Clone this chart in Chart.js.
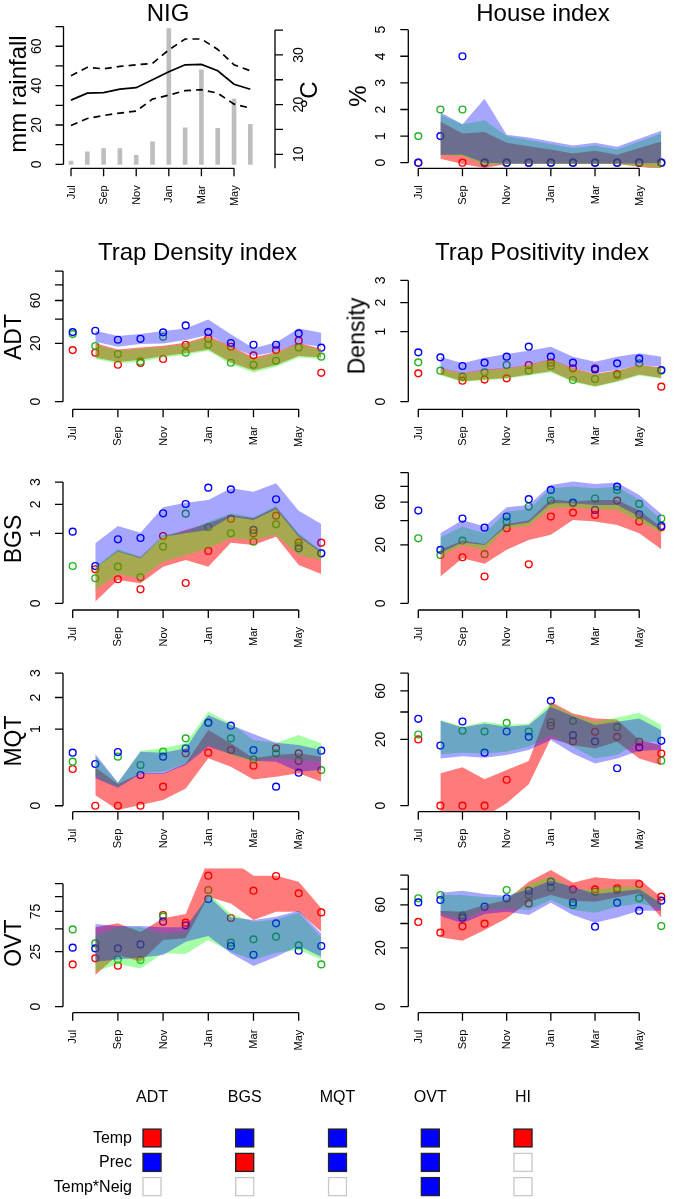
<!DOCTYPE html>
<html>
<head>
<meta charset="utf-8">
<title>NIG</title>
<script src="https://cdn.jsdelivr.net/npm/chart.js@4.4.1/dist/chart.umd.min.js"></script>
<style>
  html, body { margin: 0; padding: 0; background: #fff; }
  #page { position: relative; width: 674px; height: 1199px; overflow: hidden; font-family: "Liberation Sans", Arial, sans-serif; }
  #page canvas { position: absolute; left: 0; top: 0; }
  .lbl { position: absolute; white-space: nowrap; line-height: 1; color: #000; transform: translate(-50%, -50%); }
  .rot { transform: translate(-50%, -50%) rotate(-90deg); }
</style>
</head>
<body>
<div id="page"></div>
<script>
// month axis
const tickMonths = ["Jul", "Sep", "Nov", "Jan", "Mar", "May"];
const tickIdx = [1, 3, 5, 7, 9, 11];

// NIG climate (rain on left axis, temperature on right axis)
const rainfall = [1.7, 6.4, 8.0, 8.0, 4.6, 11.5, 69, 18.6, 48, 18.3, 33.2, 20.3];
const tempMean = [20.9, 22.3, 22.4, 23.1, 23.4, 25.0, 26.6, 28.0, 28.1, 26.8, 24.1, 23.1];
const tempMax = [25.8, 27.5, 27.2, 27.7, 28.0, 28.3, 31.0, 33.2, 33.2, 31.1, 28.0, 26.8];
const tempMin = [15.8, 17.2, 17.8, 18.3, 18.7, 21.1, 21.9, 22.8, 23.0, 22.3, 20.1, 19.3];

// House index: observed (Jul..Jun), bands (Aug..Jun)
const houseRed = [0, null, 0, 0, 0, 0, 0, 0, 0, 0, 0, 0];
const houseBlue = [0, 1, 4, 0, 0, 0, 0, 0, 0, 0, 0, 0];
const houseGreen = [1, 2, 2, 0, 0, 0, 0, 0, 0, 0, 0, 0];
const houseRedLo = [0.15, -0.05, -0.2, -0.05, -0.05, -0.05, -0.05, -0.05, -0.05, -0.15, -0.25];
const houseRedHi = [1.55, 1.1, 1.15, 0.75, 0.62, 0.5, 0.35, 0.45, 0.3, 0.55, 0.8];
const houseBlueLo = [0.3, 0.3, 0.0, -0.03, -0.03, -0.03, -0.03, -0.03, -0.03, -0.03, 0.0];
const houseBlueHi = [1.9, 1.45, 2.4, 1.05, 0.95, 0.8, 0.65, 0.75, 0.6, 0.9, 1.2];
const houseGreenLo = [0.28, 0.25, -0.1, -0.05, -0.05, -0.05, -0.05, -0.05, -0.05, -0.12, -0.2];
const houseGreenHi = [1.8, 1.45, 1.6, 1.0, 0.85, 0.7, 0.55, 0.65, 0.5, 0.8, 1.1];

// ADT density
const adtRed = [15.6, 14.1, 8.0, 8.8, 10.7, 19.0, 23.5, 17.7, 12.6, 15.6, 21.8, 4.9];
const adtBlue = [28.4, 29.5, 22.5, 23.2, 28.2, 34.1, 28.4, 20.2, 19.0, 19.0, 27.3, 17.1];
const adtGreen = [26.8, 18.2, 13.3, 9.5, 24.7, 14.1, 19.0, 8.9, 8.0, 9.8, 17.3, 11.9];
const adtRedLo = [11.4, 9.3, 10.3, 12.3, 13.7, 16.0, 9.0, 5.7, 7.9, 12.3, 11.4];
const adtRedHi = [20.0, 16.0, 17.3, 18.4, 20.4, 25.3, 18.2, 11.4, 14.5, 20.4, 16.4];
const adtBlueLo = [21.1, 17.7, 19.5, 19.9, 22.3, 26.0, 17.7, 12.2, 14.6, 19.9, 17.7];
const adtBlueHi = [29.5, 25.3, 26.8, 29.2, 31.5, 39.7, 26.6, 16.7, 20.6, 31.5, 27.9];
const adtGreenLo = [10.7, 8.6, 9.4, 11.5, 12.9, 15.2, 8.2, 5.0, 7.2, 11.5, 10.7];
const adtGreenHi = [19.2, 15.3, 16.4, 17.4, 19.6, 24.3, 17.3, 10.6, 13.8, 19.6, 15.7];

// ADT positivity
const densRed = [0.164, null, 0.09, 0.10, 0.111, 0.274, 0.31, 0.227, 0.227, 0.156, null, 0.046];
const densBlue = [0.497, 0.401, 0.26, 0.31, 0.413, 0.617, 0.413, 0.31, 0.213, 0.30, 0.377, 0.205];
const densGreen = [0.316, 0.196, 0.128, 0.176, 0.274, 0.196, 0.26, 0.096, 0.105, 0.145, 0.30, 0.196];
const densRedLo = [0.15, 0.085, 0.1, 0.115, 0.15, 0.19, 0.085, 0.048, 0.085, 0.15, 0.115];
const densRedHi = [0.232, 0.168, 0.21, 0.232, 0.28, 0.372, 0.232, 0.16, 0.2, 0.28, 0.24];
const densBlueLo = [0.227, 0.164, 0.205, 0.227, 0.274, 0.366, 0.227, 0.164, 0.205, 0.274, 0.25];
const densBlueHi = [0.413, 0.300, 0.395, 0.464, 0.531, 0.617, 0.413, 0.327, 0.413, 0.477, 0.413];
const densGreenLo = [0.14, 0.079, 0.093, 0.107, 0.14, 0.178, 0.079, 0.044, 0.079, 0.14, 0.107];
const densGreenHi = [0.222, 0.16, 0.2, 0.222, 0.268, 0.36, 0.222, 0.152, 0.192, 0.268, 0.232];

// BGS density
const bgsRed = [null, 0.236, 0.118, 0.04, 0.925, 0.084, 0.559, 1.46, 1.0, 1.568, 0.751, 0.751];
const bgsBlue = [1.048, 0.284, 0.836, 0.871, 1.653, 2.014, 2.73, 2.65, 1.098, 2.208, 0.617, 0.51];
const bgsGreen = [0.284, 0.128, 0.274, 0.138, 0.655, 1.641, 1.18, 1.0, 0.776, 1.274, 0.671, 0.51];
const bgsRedLo = [0.0006, 0.111, 0.082, 0.274, 0.383, 0.274, 0.751, 0.694, 0.907, 0.30, 0.176];
const bgsRedHi = [0.25, 0.566, 0.432, 0.907, 1.098, 1.306, 1.592, 1.474, 1.881, 0.953, 0.545];
const bgsBlueLo = [0.25, 0.545, 0.413, 0.907, 1.0, 1.098, 1.533, 1.417, 1.803, 0.907, 0.524];
const bgsBlueHi = [0.735, 1.22, 1.019, 1.881, 2.068, 2.179, 2.699, 2.545, 2.939, 1.752, 1.284];
const bgsGreenLo = [0.036, 0.176, 0.128, 0.354, 0.477, 0.617, 0.862, 0.819, 0.953, 0.477, 0.383];
const bgsGreenHi = [0.274, 0.602, 0.444, 0.953, 1.048, 1.361, 1.653, 1.51, 1.933, 1.0, 0.566];

// BGS positivity
const bgpRed = [null, null, 12.4, 4.2, 33.0, 8.9, 44.0, 48.1, 45.7, 61.7, 39.1, 33.8];
const bgpBlue = [50.3, 16.7, 42.0, 33.5, 44.0, 63.4, 75.2, 59.3, 51.0, 79.7, 46.4, 35.0];
const bgpGreen = [24.7, 13.7, 23.0, 14.1, 39.1, 54.7, 61.7, 58.6, 64.2, 75.2, 57.8, 42.0];
const bgpRedLo = [4.2, 11.9, 9.1, 16.7, 23.5, 27.4, 40.7, 39.1, 35.9, 28.7, 17.1];
const bgpRedHi = [16.7, 23.0, 20.6, 36.9, 40.0, 63.4, 60.5, 62.5, 62.5, 50.3, 33.8];
const bgpBlueLo = [15.0, 21.6, 19.9, 35.0, 38.1, 58.6, 58.6, 56.6, 56.6, 44.0, 30.9];
const bgpBlueHi = [28.7, 40.7, 34.4, 54.0, 56.6, 82.0, 86.7, 83.4, 85.3, 68.7, 46.7];
const bgpGreenLo = [12.8, 19.9, 16.7, 32.9, 35.0, 52.9, 54.0, 51.8, 51.0, 39.1, 29.2];
const bgpGreenHi = [25.5, 34.4, 28.7, 49.2, 51.8, 77.5, 79.7, 77.5, 79.7, 62.5, 40.7];

// MQT density
const mqtRed = [0.230, 0, 0, 0, 0.062, 0.468, 0.480, 0.530, 0.273, 0.562, 0.468, null];
const mqtBlue = [0.480, 0.297, 0.492, 0.161, 0.411, 0.562, 1.177, 1.094, 0.530, 0.062, 0.186, 0.517];
const mqtGreen = [0.331, null, 0.411, 0.283, 0.498, 0.775, 1.177, 0.775, 0.367, 0.468, 0.341, 0.217];
const mqtRedLo = [0.019, -0.003, 0.0001, 0.0055, 0.051, 0.383, 0.260, 0.118, 0.144, 0.179, 0.098];
const mqtRedHi = [0.25, 0.080, 0.179, 0.179, 0.306, 0.978, 0.664, 0.383, 0.439, 0.468, 0.411];
const mqtBlueLo = [0.128, 0.055, 0.171, 0.171, 0.283, 0.595, 0.456, 0.346, 0.331, 0.197, 0.217];
const mqtBlueHi = [0.456, 0.092, 0.498, 0.480, 0.562, 1.404, 1.112, 0.878, 0.678, 0.629, 0.530];
const mqtGreenLo = [0.144, 0.06, 0.186, 0.197, 0.306, 0.629, 0.439, 0.331, 0.383, 0.356, 0.331];
const mqtGreenHi = [0.422, 0.088, 0.517, 0.562, 0.664, 1.510, 1.158, 0.737, 0.678, 0.853, 0.664];

// MQT positivity
const mqpRed = [20.0, 0, 0, 0, 3.07, null, 29.1, 18.8, 24.9, 21.6, 18.6, 12.4];
const mqpBlue = [34.4, 16.5, 32.3, 12.8, 25.1, 21.6, 50.1, 22.7, 18.8, 6.4, 15.5, 19.2];
const mqpGreen = [23.1, null, 25.6, 25.1, 31.3, 25.1, 31.6, 32.6, null, 28.1, null, 9.2];
const mqpRedLo = [-0.16, -0.16, -0.55, 0.025, 2.1, 20.6, 16.7, 14.9, 18.6, 10.2, 7.5];
const mqpRedHi = [4.8, 6.7, 3.2, 5.8, 9.1, 49.2, 38.8, 34.7, 33.9, 19.6, 16.7];
const mqpBlueLo = [10.2, 11.2, 10.5, 11.7, 14.1, 19.6, 12.4, 8.1, 10.2, 13.7, 14.1];
const mqpBlueHi = [32.8, 27.9, 30.8, 28.4, 29.6, 44.5, 36.5, 29.6, 32.1, 34.7, 26.0];
const mqpGreenLo = [12.1, 12.8, 12.4, 13.3, 15.8, 22.7, 15.8, 10.2, 11.7, 18.6, 18.6];
const mqpGreenHi = [33.4, 28.4, 32.1, 29.6, 30.8, 47.6, 37.4, 32.1, 35.5, 39.3, 29.6];

// OVT density
const ovtRed = [14.8, 19.3, 13.9, null, 69.4, 58.3, 141.8, 65.0, 111.2, 141.1, 106.2, 73.5];
const ovtBlue = [28.8, 28.1, 28.1, 32.1, 59.7, 54.7, 95.8, 30.4, 22.3, 57.4, 25.9, 30.4];
const ovtGreen = [49.4, 33.1, 18.5, 18.0, 66.9, null, 112.5, 33.9, 37.5, 40.5, 31.1, 14.8];
const ovtRedLo = [8.3, 22.1, 16.7, 36.7, 38.6, 100.0, 88.2, 62.1, 74.6, 74.6, 46.5];
const ovtRedHi = [52.0, 57.4, 46.1, 64.5, 71.0, 177.8, 177.8, 141.8, 141.8, 129.1, 79.9];
const ovtBlueLo = [16.7, 18.5, 20.1, 22.1, 34.9, 41.3, 23.5, 13.7, 20.7, 30.4, 20.7];
const ovtBlueHi = [56.5, 53.8, 53.8, 52.0, 52.0, 101.2, 66.0, 62.1, 66.9, 76.2, 44.4];
const ovtGreenLo = [10.1, 15.0, 12.1, 23.5, 22.9, 36.7, 25.0, 18.0, 24.1, 26.5, 18.5];
const ovtGreenHi = [42.4, 52.0, 52.0, 44.4, 46.5, 106.2, 71.0, 59.7, 63.0, 73.0, 39.7];

// OVT positivity
const ovpRed = [41.5, 31.7, 37.3, 39.8, null, 61.7, null, 79.6, 79.6, 81.0, 87.0, 70.0];
const ovpBlue = [62.9, 65.8, 45.8, 57.8, 67.9, 77.8, 90.4, 62.9, 37.0, 62.5, 53.3, 65.0];
const ovpGreen = [67.9, 72.1, 48.2, null, 78.7, 72.1, 81.9, 59.8, 76.5, 78.7, 67.9, 37.6];
const ovpRedLo = [27.8, 25.2, 34.0, 45.1, 63.8, 72.1, 65.0, 63.8, 69.1, 74.3, 46.1];
const ovpRedHi = [53.3, 52.2, 59.8, 65.8, 90.4, 108.0, 88.9, 96.7, 93.8, 93.8, 69.1];
const ovpBlueLo = [47.5, 40.2, 49.7, 52.2, 48.6, 62.5, 48.6, 40.8, 46.1, 53.3, 53.3];
const ovpBlueHi = [75.2, 77.8, 73.4, 70.8, 79.6, 91.8, 83.3, 73.4, 76.5, 79.6, 61.7];
const ovpGreenLo = [50.4, 43.4, 54.0, 55.9, 54.0, 65.8, 54.0, 51.1, 57.8, 61.7, 55.9];
const ovpGreenHi = [72.1, 72.1, 69.1, 69.1, 85.6, 98.7, 79.6, 78.7, 83.3, 83.3, 61.7];

// significance table
const legendCols = ["ADT", "BGS", "MQT", "OVT", "HI"];
const legendRows = ["Temp", "Prec", "Temp*Neig"];
const tempEffect = [1, -1, -1, -1, 1];
const precEffect = [-1, 1, -1, -1, 0];
const neigEffect = [0, 0, 0, -1, 0];

// ---------------------------------------------------------------
const FONT = '"Liberation Sans", Arial, sans-serif';
Chart.defaults.font.family = FONT;
const PT = { red: "#ff0000", blue: "#0000ff", green: "#22b422" };
const BAND = { red: "rgba(255,0,0,0.52)", blue: "rgba(0,0,255,0.35)", green: "rgba(0,255,0,0.35)" };
const sqrtS = v => v < 0 ? -Math.sqrt(-v) : Math.sqrt(v);
const ident = v => v;
const page = document.getElementById("page");

function newCtx() {
  const c = document.createElement("canvas");
  c.width = 674; c.height = 1199;
  page.appendChild(c);
  return c.getContext("2d");
}

function label(str, x, y, size, rot) {
  const d = document.createElement("div");
  d.className = "lbl" + (rot ? " rot" : "");
  d.style.left = x + "px"; d.style.top = y + "px"; d.style.fontSize = size + "px";
  d.textContent = str;
  page.appendChild(d);
}

function drawYAxis(ctx, sc, x, o, dir) {
  const tp = o.ticks.map(v => sc.getPixelForValue(o.tr(v)));
  const from = o.from != null ? sc.getPixelForValue(o.tr(o.from)) : tp[0];
  ctx.beginPath();
  ctx.moveTo(x, from); ctx.lineTo(x, tp[tp.length - 1]);
  tp.forEach(p => { ctx.moveTo(x, p); ctx.lineTo(x + dir * 8, p); });
  ctx.stroke();
  ctx.font = "14px " + FONT;
  ctx.textAlign = "center"; ctx.textBaseline = "middle";
  o.ticks.forEach((v, i) => {
    if (!o.labels.includes(v)) return;
    ctx.save();
    ctx.translate(x + dir * o.gap, tp[i]);
    ctx.rotate(-Math.PI / 2);
    ctx.fillText(String(v), 0, 0);
    ctx.restore();
  });
}

// R style axes: line only from first to last tick, outward ticks, rotated labels
const rAxes = {
  id: "rAxes",
  afterDraw(chart, args, o) {
    if (!o || !o.y) return;
    const ctx = chart.ctx, ca = chart.chartArea, xs = chart.scales.x;
    ctx.save();
    ctx.strokeStyle = "#000"; ctx.fillStyle = "#000"; ctx.lineWidth = 1.3;
    const xp = tickIdx.map(v => xs.getPixelForValue(v));
    const yb = ca.bottom;
    ctx.beginPath();
    ctx.moveTo(xp[0], yb); ctx.lineTo(xp[xp.length - 1], yb);
    xp.forEach(p => { ctx.moveTo(p, yb); ctx.lineTo(p, yb + 8); });
    ctx.stroke();
    ctx.font = "11px " + FONT;
    ctx.textAlign = "right"; ctx.textBaseline = "middle";
    xp.forEach((p, i) => {
      ctx.save();
      ctx.translate(p + 0.5, yb + 17);
      ctx.rotate(-Math.PI / 2);
      ctx.fillText(tickMonths[i], 0, 0);
      ctx.restore();
    });
    drawYAxis(ctx, chart.scales.y, ca.left, o.y, -1);
    if (o.y2) drawYAxis(ctx, chart.scales.y2, o.y2.x, o.y2, 1);
    ctx.restore();
  }
};
Chart.register(rAxes);

function baseOptions(area, xMin, xMax, yMin, yMax) {
  return {
    responsive: false, animation: false, devicePixelRatio: 1, events: [],
    layout: { padding: { left: area.l, right: 674 - area.r, top: area.t, bottom: 1199 - area.b } },
    scales: {
      x: { type: "linear", display: false, min: xMin, max: xMax, offset: false },
      y: { type: "linear", display: false, min: yMin, max: yMax }
    },
    plugins: { legend: { display: false }, tooltip: { enabled: false } }
  };
}

function bandPanel(p) {
  const tr = p.sqrt ? sqrtS : ident;
  const datasets = [];
  [["red", p.red], ["green", p.green], ["blue", p.blue]].forEach(([c, vals], k) => {
    datasets.push({
      data: vals.map((v, i) => ({ x: i + 1, y: v == null ? null : tr(v) })),
      showLine: false, pointRadius: 3.4, pointBorderWidth: 1.4,
      pointBorderColor: PT[c], pointBackgroundColor: "rgba(0,0,0,0)", order: 20 - k
    });
  });
  // bands painted red, then green, then blue on top
  ["red", "green", "blue"].forEach((c, k) => {
    const [lo, hi] = p.bands[c];
    datasets.push({
      data: lo.map((v, i) => ({ x: i + 2, y: tr(v) })),
      borderWidth: 0, borderColor: "rgba(0,0,0,0)", pointRadius: 0, fill: false, order: 10 - k
    });
    datasets.push({
      data: hi.map((v, i) => ({ x: i + 2, y: tr(v) })),
      borderWidth: 0, borderColor: "rgba(0,0,0,0)", pointRadius: 0,
      fill: "-1", backgroundColor: BAND[c], order: 10 - k
    });
  });
  const opt = baseOptions(p.area, p.xMin, p.xMax, p.yMin, p.yMax);
  opt.plugins.rAxes = { y: { ticks: p.yTicks, labels: p.yLabels, tr: tr, gap: 27 } };
  new Chart(newCtx(), { type: "line", data: { datasets }, options: opt });
}

// ---- NIG climate panel
(function () {
  const opt = baseOptions({ l: 63.5, r: 257.5, t: 22.6, b: 168.3 }, 0.54, 12.44, -1.98, 72.0);
  opt.scales.y2 = { type: "linear", display: false, min: 7.18, max: 36.5 };
  opt.plugins.rAxes = {
    y: { ticks: [0, 10, 20, 30, 40, 50, 60, 70], labels: [0, 20, 40, 60], tr: ident, gap: 26 },
    y2: { x: 275, ticks: [10, 15, 20, 25, 30, 35], labels: [10, 20, 30], tr: ident, gap: 24, from: 7.18 }
  };
  const line = (vals, dash) => ({
    type: "line", yAxisID: "y2", data: vals.map((v, i) => ({ x: i + 1, y: v })),
    borderColor: "#000", borderWidth: 1.7, borderDash: dash, pointRadius: 0, fill: false, order: 1
  });
  new Chart(newCtx(), {
    type: "line",
    data: {
      datasets: [
        { type: "bar", data: rainfall.map((v, i) => ({ x: i + 1, y: v })), backgroundColor: "#bebebe", barThickness: 4, order: 5 },
        line(tempMean, []), line(tempMax, [7, 5]), line(tempMin, [7, 5])
      ]
    },
    options: opt
  });
})();

const LX = { l: 63, r: 331, xMin: 0.571, xMax: 12.43 };
const RX = { l: 408.3, r: 674, xMin: 0.548, xMax: 12.33 };
const T100 = [0, 20, 40, 60, 80, 100];

const panels = [
  { x: RX, t: 24.6, b: 168.3, yMin: -0.21, yMax: 5.19, sqrt: false, yTicks: [0, 1, 2, 3, 4, 5], yLabels: [0, 1, 2, 3, 4, 5],
    red: houseRed, blue: houseBlue, green: houseGreen,
    bands: { red: [houseRedLo, houseRedHi], blue: [houseBlueLo, houseBlueHi], green: [houseGreenLo, houseGreenHi] } },
  { x: LX, t: 264.8, b: 409.3, yMin: -0.58, yMax: 10.48, sqrt: true, yTicks: T100, yLabels: [0, 20, 60],
    red: adtRed, blue: adtBlue, green: adtGreen,
    bands: { red: [adtRedLo, adtRedHi], blue: [adtBlueLo, adtBlueHi], green: [adtGreenLo, adtGreenHi] } },
  { x: RX, t: 264.8, b: 409.3, yMin: -0.109, yMax: 1.956, sqrt: true, yTicks: [0, 1, 2, 3], yLabels: [0, 1, 2, 3],
    red: densRed, blue: densBlue, green: densGreen,
    bands: { red: [densRedLo, densRedHi], blue: [densBlueLo, densBlueHi], green: [densGreenLo, densGreenHi] } },
  { x: LX, t: 465.5, b: 610, yMin: -0.096, yMax: 1.969, sqrt: true, yTicks: [0, 1, 2, 3], yLabels: [0, 1, 2, 3],
    red: bgsRed, blue: bgsBlue, green: bgsGreen,
    bands: { red: [bgsRedLo, bgsRedHi], blue: [bgsBlueLo, bgsBlueHi], green: [bgsGreenLo, bgsGreenHi] } },
  { x: RX, t: 465.5, b: 610, yMin: -0.513, yMax: 10.54, sqrt: true, yTicks: T100, yLabels: [0, 20, 60],
    red: bgpRed, blue: bgpBlue, green: bgpGreen,
    bands: { red: [bgpRedLo, bgpRedHi], blue: [bgpBlueLo, bgpBlueHi], green: [bgpGreenLo, bgpGreenHi] } },
  { x: LX, t: 667.2, b: 811.7, yMin: -0.078, yMax: 1.81, sqrt: true, yTicks: [0, 1, 2, 3], yLabels: [0, 1, 2, 3],
    red: mqtRed, blue: mqtBlue, green: mqtGreen,
    bands: { red: [mqtRedLo, mqtRedHi], blue: [mqtBlueLo, mqtBlueHi], green: [mqtGreenLo, mqtGreenHi] } },
  { x: RX, t: 667.2, b: 811.7, yMin: -0.405, yMax: 9.35, sqrt: true, yTicks: [0, 20, 40, 60, 80], yLabels: [0, 20, 60],
    red: mqpRed, blue: mqpBlue, green: mqpGreen,
    bands: { red: [mqpRedLo, mqpRedHi], blue: [mqpBlueLo, mqpBlueHi], green: [mqpGreenLo, mqpGreenHi] } },
  { x: LX, t: 868.2, b: 1012.7, yMin: -0.545, yMax: 12.59, sqrt: true, yTicks: [0, 25, 50, 75, 100, 125], yLabels: [0, 25, 75],
    red: ovtRed, blue: ovtBlue, green: ovtGreen,
    bands: { red: [ovtRedLo, ovtRedHi], blue: [ovtBlueLo, ovtBlueHi], green: [ovtGreenLo, ovtGreenHi] } },
  { x: RX, t: 868.2, b: 1012.7, yMin: -0.456, yMax: 10.53, sqrt: true, yTicks: T100, yLabels: [0, 20, 60],
    red: ovpRed, blue: ovpBlue, green: ovpGreen,
    bands: { red: [ovpRedLo, ovpRedHi], blue: [ovpBlueLo, ovpBlueHi], green: [ovpGreenLo, ovpGreenHi] } }
];
panels.forEach(p => bandPanel(Object.assign({}, p, {
  area: { l: p.x.l, r: p.x.r, t: p.t, b: p.b }, xMin: p.x.xMin, xMax: p.x.xMax
})));

// ---- significance table
(function () {
  const effects = [tempEffect, precEffect, neigEffect];
  const datasets = effects.map((eff, r) => ({
    type: "bar",
    data: eff.map((e, i) => ({ x: i + 1, y: [3 - r - 0.39, 3 - r + 0.39] })),
    backgroundColor: eff.map(e => e > 0 ? "#ff0000" : e < 0 ? "#0000ff" : "#ffffff"),
    borderColor: eff.map(e => e !== 0 ? "#222" : "#c8c8c8"),
    borderWidth: 1.5, borderSkipped: false, barThickness: 19, grouped: false
  }));
  const opt = baseOptions({ l: 0, r: 674, t: 1100, b: 1199 }, -0.639, 6.628, 0.495, 4.56);
  new Chart(newCtx(), { type: "bar", data: { datasets }, options: opt });
  legendCols.forEach((c, i) => label(c, 152 + i * 92.75, 1097, 16, false));
  legendRows.forEach((r, i) => {
    const d = document.createElement("div");
    d.className = "lbl";
    d.style.transform = "translate(-100%, -50%)";
    d.style.left = "132px"; d.style.top = (1138 + i * 24.35) + "px"; d.style.fontSize = "16px";
    d.textContent = r;
    page.appendChild(d);
  });
})();

// ---- titles and axis titles
label("NIG", 168, 12.8, 24, false);
label("House index", 543, 12.5, 24, false);
label("Trap Density index", 197.5, 251.7, 24, false);
label("Trap Positivity index", 542, 251.7, 24, false);
label("mm rainfall", 17.5, 94, 24, true);
label("°C", 309, 95, 24, true);
label("%", 357.7, 96, 24, true);
label("ADT", 12.5, 337, 23, true);
label("Density", 357, 336, 23, true);
label("BGS", 13.3, 539, 23, true);
label("MQT", 12.5, 741, 23, true);
label("OVT", 12.5, 943, 23, true);
</script>
</body>
</html>
